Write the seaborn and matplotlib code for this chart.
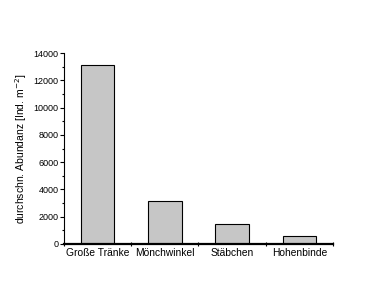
import matplotlib
matplotlib.use("Agg")
import matplotlib.pyplot as plt
import seaborn as sns
import pandas as pd
from matplotlib.ticker import MultipleLocator, FixedLocator

sites = ["Große Tränke", "Mönchwinkel", "Stäbchen", "Hohenbinde"]
abundance = [13100, 3120, 1490, 560]
yticks = [0, 2000, 4000, 6000, 8000, 10000, 12000, 14000]

sns.set_style("ticks")
plt.rcParams['font.family'] = ['Liberation Sans', 'DejaVu Sans']
plt.rcParams['text.color'] = 'black'
plt.rcParams['axes.labelcolor'] = 'black'
plt.rcParams['xtick.color'] = 'black'
plt.rcParams['ytick.color'] = 'black'
plt.rcParams['axes.edgecolor'] = 'black'

df = pd.DataFrame({"site": sites, "abundance": abundance})

fig = plt.figure(figsize=(3.72, 3.0), dpi=100)
ax = fig.add_axes([0.172, 0.187, 0.723, 0.636])
sns.barplot(data=df, x="site", y="abundance", ax=ax, color="#c6c6c6",
            width=0.5, edgecolor="black", linewidth=0.8, saturation=1)

ax.set_xlim(-0.5, 3.5)
ax.set_ylim(0, 14000)
ax.set_yticks(yticks)
ax.set_yticklabels([str(v) for v in yticks], fontsize=6.5)
ax.yaxis.set_minor_locator(MultipleLocator(1000))
ax.tick_params(axis='y', which='major', length=3, width=0.8, pad=1)
ax.tick_params(axis='y', which='minor', length=1.5, width=0.8)

ax.xaxis.set_major_locator(FixedLocator([-0.5, 0.5, 1.5, 2.5, 3.5]))
ax.xaxis.set_minor_locator(FixedLocator([0, 1, 2, 3]))
ax.set_xticklabels([], minor=False)
ax.set_xticklabels(sites, minor=True, fontsize=7.4)
ax.tick_params(axis='x', which='major', length=3, width=0.8, direction='inout')
ax.tick_params(axis='x', which='minor', length=0, pad=3)

ax.set_xlabel("")
ax.set_ylabel("durchschn. Abundanz [Ind. m$^{-2}$]", fontsize=7.5, labelpad=3)

sns.despine(ax=ax)
ax.spines['left'].set_linewidth(0.8)
ax.spines['bottom'].set_linewidth(1.6)

fig.savefig("out.png", dpi=100)
